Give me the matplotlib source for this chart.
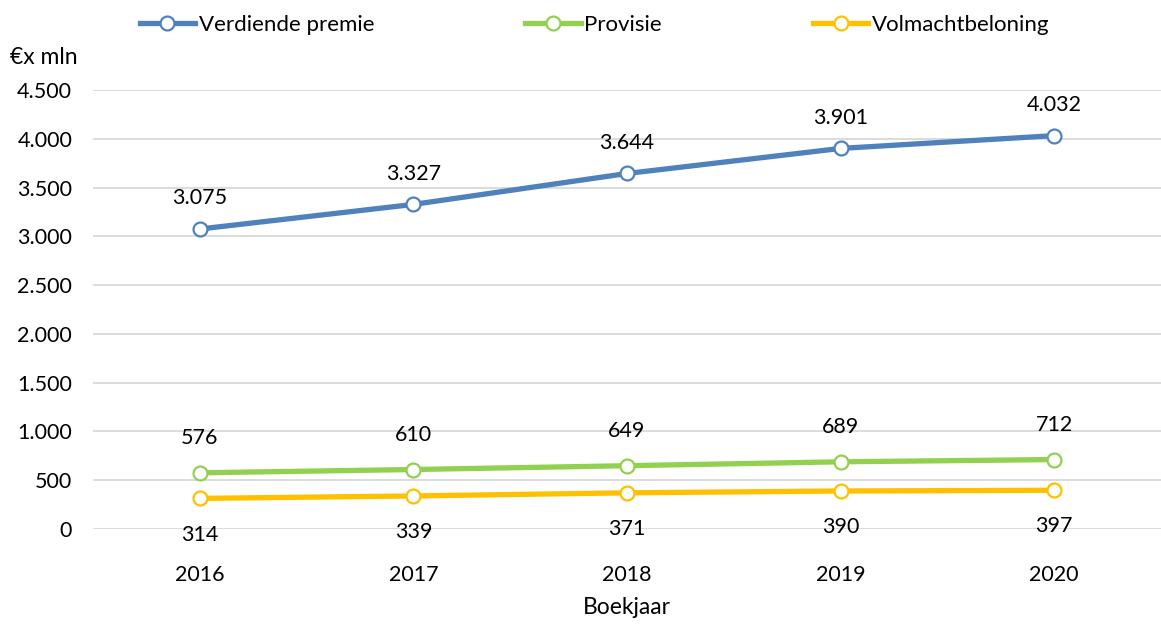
import matplotlib.pyplot as plt
from matplotlib.ticker import FuncFormatter

plt.rcParams['font.family'] = ['Lato', 'DejaVu Sans']

jaren = ["2016", "2017", "2018", "2019", "2020"]
verdiende_premie = [3075, 3327, 3644, 3901, 4032]
provisie = [576, 610, 649, 689, 712]
volmachtbeloning = [314, 339, 371, 390, 397]
y_ticks = [0, 500, 1000, 1500, 2000, 2500, 3000, 3500, 4000, 4500]


def nl(v, pos=None):
    # Dutch thousands separator
    return f"{int(v):,}".replace(",", ".")


fig = plt.figure(figsize=(11.61, 6.24), dpi=100)
ax = fig.add_axes([0.0801, 0.1522, 0.9199, 0.7036])

x = list(range(len(jaren)))
series = [
    ("Verdiende premie", verdiende_premie, "#4F81BD", 22),
    ("Provisie", provisie, "#92D050", 25),
    ("Volmachtbeloning", volmachtbeloning, "#FFC000", -26),
]
fs = 15.5
for naam, vals, kleur, off in series:
    ax.plot(x, vals, "-o", color=kleur, lw=3.8, ms=10, mfc="white",
            mec=kleur, mew=1.6, label=naam, zorder=3)
    for xi, v in zip(x, vals):
        ax.annotate(nl(v), (xi, v), xytext=(0, off), textcoords="offset points",
                    ha="center", va="center", fontsize=fs, color="black")

ax.set_xlim(-0.5, len(jaren) - 0.5)
ax.set_ylim(0, 4500)
ax.set_yticks(y_ticks)
ax.yaxis.set_major_formatter(FuncFormatter(nl))
ax.set_xticks(x)
ax.set_xticklabels(jaren)
ax.grid(axis="y", color="#D9D9D9", lw=1.3)
ax.set_axisbelow(True)
for s in ax.spines.values():
    s.set_visible(False)
ax.tick_params(axis="both", length=0, labelsize=fs)
ax.tick_params(axis="x", pad=26)
ax.tick_params(axis="y", pad=15)

fig.text(0.540, 1 - 608 / 624, "Boekjaar", fontsize=16.5, ha="center", va="center")
fig.text(0.009, 1 - 57 / 624, "€x mln", fontsize=16.5, ha="left", va="center")

fig.legend(loc="center", bbox_to_anchor=(0.512, 1 - 25 / 624), ncol=3, frameon=False,
           fontsize=16, handlelength=2.5, handletextpad=0.15, columnspacing=6.8)

fig.savefig("out.png", dpi=100)
